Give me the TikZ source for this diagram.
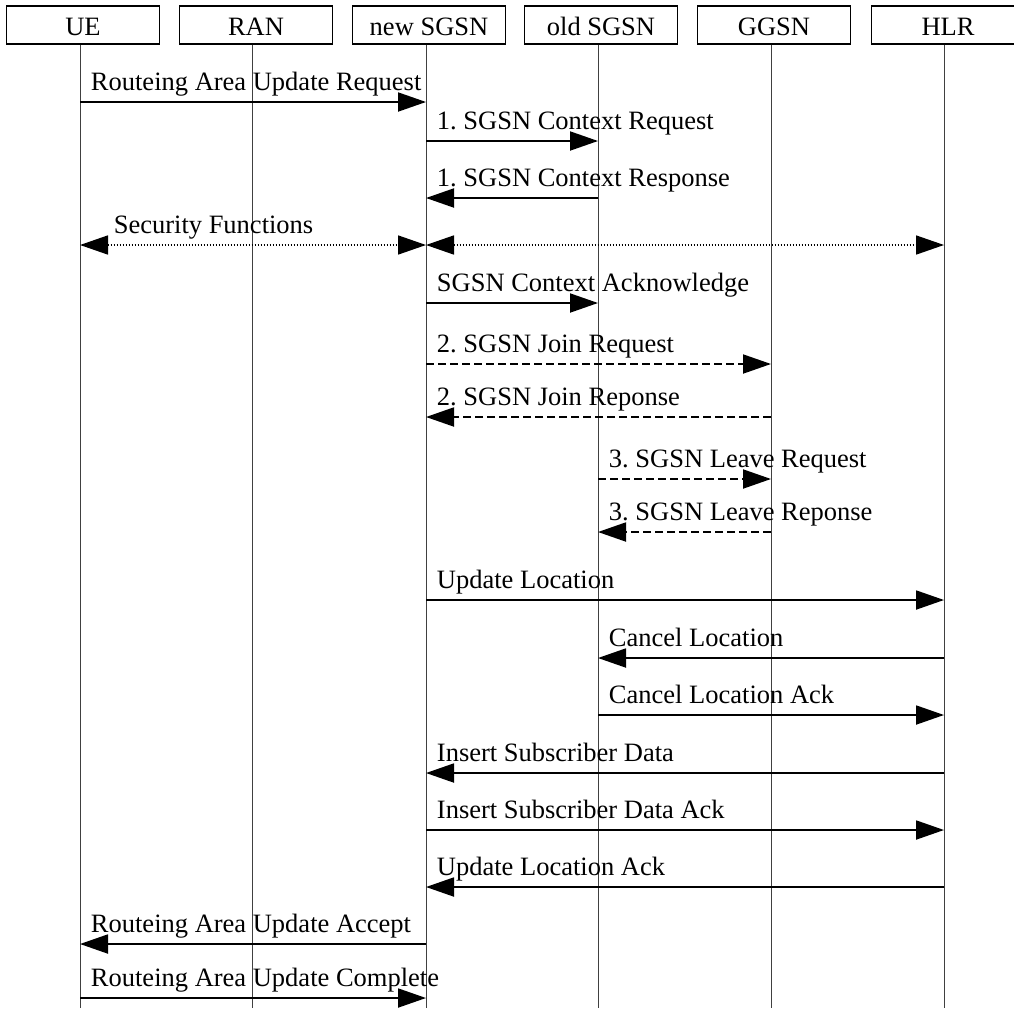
\documentclass[tikz,border=0pt]{standalone}
\usepackage{fontspec}
\setmainfont{Liberation Serif}
\usetikzlibrary{arrows.meta}

\begin{document}
\frenchspacing
\begin{tikzpicture}[x=1pt, y=-1pt,
    every node/.style={font=\fontsize{26.5}{30}\selectfont},
    entity/.style={draw, line width=1.4pt, minimum width=153pt, minimum height=38pt, inner sep=0pt,
      text height=22pt, text depth=2pt},
    lifeline/.style={line width=0.9pt, black!75},
    msg/.style={line width=1.9pt, -{Triangle[length=28pt, width=19pt]}},
    reply/.style={msg, dash pattern=on 8pt off 4pt},
    secure/.style={line width=1.6pt, dash pattern=on 1.5pt off 1.5pt,
      {Triangle[length=28pt, width=19pt]}-{Triangle[length=28pt, width=19pt]}},
    lbl/.style={anchor=base west, xshift=10pt, yshift=12pt, inner sep=0pt}]
    \useasboundingbox (0,0) rectangle (1014,1010);
    \clip (0,0) rectangle (1014,1010);

    % Entities
    \node[entity] (ue) at (83,25) {UE};
    \node[entity] (ran) at (256,25) {RAN};
    \node[entity] (nsgsn) at (429,25) {new SGSN};
    \node[entity] (osgsn) at (601,25) {old SGSN};
    \node[entity] (ggsn) at (774,25) {GGSN};
    \node[entity] (hlr) at (948,25) {HLR};

    % Lifelines
    \coordinate (ue-end) at (80,1008);
    \coordinate (ran-end) at (252,1008);
    \coordinate (nsgsn-end) at (426,1008);
    \coordinate (osgsn-end) at (598,1008);
    \coordinate (ggsn-end) at (771,1008);
    \coordinate (hlr-end) at (944,1008);
    \draw[lifeline] (ue.south -| ue-end) -- (ue-end);
    \draw[lifeline] (ran.south -| ran-end) -- (ran-end);
    \draw[lifeline] (nsgsn.south -| nsgsn-end) -- (nsgsn-end);
    \draw[lifeline] (osgsn.south -| osgsn-end) -- (osgsn-end);
    \draw[lifeline] (ggsn.south -| ggsn-end) -- (ggsn-end);
    \draw[lifeline] (hlr.south -| hlr-end) -- (hlr-end);

    % Routeing area update and context transfer
    \draw[msg] (ue-end |- 0,102) -- (nsgsn-end |- 0,102) node[lbl, at start] (m1) {Routeing Area Update Request};
    \draw[msg] (nsgsn-end |- 0,141) -- (osgsn-end |- 0,141) node[lbl, at start] (m2) {1. SGSN Context Request};
    \draw[msg] (osgsn-end |- 0,198) -- (nsgsn-end |- 0,198) node[lbl, at end] (m3) {1. SGSN Context Response};

    % Security functions
    \draw[secure] (ue-end |- 0,245) -- (nsgsn-end |- 0,245) node[lbl, at start, xshift=23pt] (m4) {Security Functions};
    \draw[secure] (nsgsn-end |- 0,245) -- (hlr-end |- 0,245);

    \draw[msg] (nsgsn-end |- 0,303) -- (osgsn-end |- 0,303) node[lbl, at start] (m5) {SGSN Context Acknowledge};

    % Optional join and leave
    \draw[reply] (nsgsn-end |- 0,364) -- (ggsn-end |- 0,364) node[lbl, at start] (m6) {2. SGSN Join Request};
    \draw[reply] (ggsn-end |- 0,417) -- (nsgsn-end |- 0,417) node[lbl, at end] (m7) {2. SGSN Join Reponse};
    \draw[reply] (osgsn-end |- 0,479) -- (ggsn-end |- 0,479) node[lbl, at start] (m8) {3. SGSN Leave Request};
    \draw[reply] (ggsn-end |- 0,532) -- (osgsn-end |- 0,532) node[lbl, at end] (m9) {3. SGSN Leave Reponse};

    % Location update with the HLR
    \draw[msg] (nsgsn-end |- 0,600) -- (hlr-end |- 0,600) node[lbl, at start] (m10) {Update Location};
    \draw[msg] (hlr-end |- 0,658) -- (osgsn-end |- 0,658) node[lbl, at end] (m11) {Cancel Location};
    \draw[msg] (osgsn-end |- 0,715) -- (hlr-end |- 0,715) node[lbl, at start] (m12) {Cancel Location Ack};
    \draw[msg] (hlr-end |- 0,773) -- (nsgsn-end |- 0,773) node[lbl, at end] (m13) {Insert Subscriber Data};
    \draw[msg] (nsgsn-end |- 0,830) -- (hlr-end |- 0,830) node[lbl, at start] (m14) {Insert Subscriber Data Ack};
    \draw[msg] (hlr-end |- 0,887) -- (nsgsn-end |- 0,887) node[lbl, at end] (m15) {Update Location Ack};

    % Accept and complete
    \draw[msg] (nsgsn-end |- 0,944) -- (ue-end |- 0,944) node[lbl, at end] (m16) {Routeing Area Update Accept};
    \draw[msg] (ue-end |- 0,998) -- (nsgsn-end |- 0,998) node[lbl, at start] (m17) {Routeing Area Update Complete};
\end{tikzpicture}
\end{document}
